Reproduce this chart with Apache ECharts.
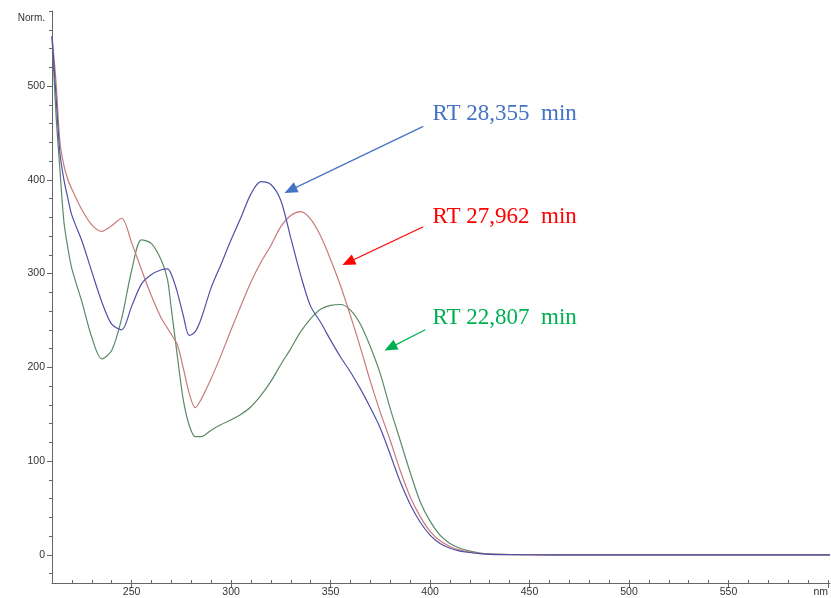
<!DOCTYPE html>
<html>
<head>
<meta charset="utf-8">
<script src="https://cdn.jsdelivr.net/npm/echarts@6/dist/echarts.min.js"></script>
<style>
html,body{margin:0;padding:0;background:#fff;}
#chart{width:831px;height:598px;}
</style>
</head>
<body>
<div id="chart"></div>
<script>
// Wavelength (nm)
const wavelengths = [210,212,214,216,218,220,225,230,235,240,245,250,255,260,265,268,270,273,276,279,282,285,290,295,300,305,310,315,320,325,330,335,340,345,350,355,360,365,370,375,380,385,390,395,400,405,410,415,420,425,430,440,460,500,550,601];
// RT 28,355 min (blue)
const rt28355 = [553,490,428,400,380,362,335,302,270,246,240,265,289,299,304,305,299,280,255,234,238,252,285,310,336,360,385,398,395,378,338,298,265,248,229,211,195,177,157,135,107,78,54,35,21,12,7,4,2.5,1.3,0.6,0.3,0,0,0,0];
// RT 27,962 min (red)
const rt27962 = [553,505,440,415,400,390,368,352,345,351,359,333,304,276,252,242,235,224,199,172,157,166,188,213,240,266,291,312,330,350,362,366,358,340,315,287,255,221,185,152,122,90,62,41,25,15,9,5,3,1.5,0.8,0.3,0,0,0,0];
// RT 22,807 min (green)
const rt22807 = [553,470,410,355,327,305,270,232,209,218,252,303,336,332,314,294,262,212,165,138,126,126,133,139,144,150,158,170,185,203,220,238,252,262,266,267,261,246,222,193,156,122,88,57,36,21,12,7,4,2,1,0.4,0,0,0,0];

const xMajorTicks = [250,300,350,400,450,500,550,600];
const xMinorTicks = [];
for (let v = 220; v <= 600; v += 10) xMinorTicks.push(v);
const yMajorTicks = [0,100,200,300,400,500];
const yMinorTicks = [];
for (let v = -20; v <= 580; v += 20) yMinorTicks.push(v);

// Annotations: label, colour, text anchor, arrow start, arrow end (data units)
const annotLabels = ['RT 28,355  min','RT 27,962  min','RT 22,807  min'];
const annotColors = ['#4472c4','#ff0000','#00b050'];
const annotText = [[401,470],[401,360],[401,253]];
const arrowStart = [[396.6,457],[396.6,350],[397.6,240]];
const arrowEnd = [[329.8,389],[358.9,312],[380,221]];

const lineColors = ['#5050a8','#c87a7a','#5a8a66'];
const seriesVals = [rt28355, rt27962, rt22807];

const axisCol = '#666';
const labelFont = {fontSize:10.5, color:'#333', fontFamily:'Liberation Sans'};

const series = seriesVals.map((vals, i) => ({
  type:'line',
  name: annotLabels[i],
  data: wavelengths.map((w, k) => [w, vals[k]]),
  smooth: 0.3,
  smoothMonotone: 'none',
  showSymbol:false,
  symbol:'none',
  lineStyle:{width:1.2, color:lineColors[i]},
  z: 3 - i,
  markLine:{
    silent:true,
    symbol:['none','triangle'],
    symbolSize:[11,13],
    label:{show:false},
    lineStyle:{color:annotColors[i], width:1.2, type:'solid'},
    data:[[{coord:arrowStart[i]},{coord:arrowEnd[i]}]]
  },
  markPoint:{
    silent:true,
    symbol:'circle',
    symbolSize:1,
    itemStyle:{color:'rgba(0,0,0,0)'},
    label:{show:true, position:'right', distance:0, formatter:annotLabels[i], color:annotColors[i], fontSize:23, fontFamily:'Liberation Serif'},
    data:[{coord:annotText[i]}]
  }
}));

const chart = echarts.init(document.getElementById('chart'), null, {renderer:'canvas'});
chart.setOption({
  animation:false,
  backgroundColor:'#fff',
  grid:{left:52, right:0, top:11, bottom:15},
  xAxis:[{
    type:'value', min:210, max:601, position:'bottom',
    axisLine:{onZero:false, lineStyle:{color:axisCol, width:1}},
    axisTick:{customValues:xMajorTicks, length:5, lineStyle:{color:axisCol}},
    axisLabel:Object.assign({customValues:xMajorTicks, margin:4, alignMaxLabel:'right', formatter:v => v === 600 ? 'nm' : String(v)}, labelFont),
    splitLine:{show:false}
  },{
    type:'value', min:210, max:601, position:'bottom',
    axisLine:{show:false, onZero:false},
    axisTick:{customValues:xMinorTicks, length:3, inside:true, lineStyle:{color:axisCol}},
    axisLabel:{show:false},
    splitLine:{show:false}
  }],
  yAxis:[{
    type:'value', min:-30, max:580, position:'left',
    name:'Norm.', nameLocation:'end', nameGap:-12,
    nameTextStyle:Object.assign({align:'right', padding:[0,7,0,0]}, labelFont, {fontSize:10}),
    axisLine:{show:true, onZero:false, lineStyle:{color:axisCol, width:1}},
    axisTick:{show:true, customValues:yMajorTicks, length:5, lineStyle:{color:axisCol}},
    axisLabel:Object.assign({customValues:yMajorTicks, margin:7}, labelFont),
    splitLine:{show:false}
  },{
    type:'value', min:-30, max:580, position:'left',
    axisLine:{show:false, onZero:false},
    axisTick:{show:true, customValues:yMinorTicks, length:3, lineStyle:{color:axisCol}},
    axisLabel:{show:false},
    splitLine:{show:false}
  }],
  series: series
});
</script>
</body>
</html>
